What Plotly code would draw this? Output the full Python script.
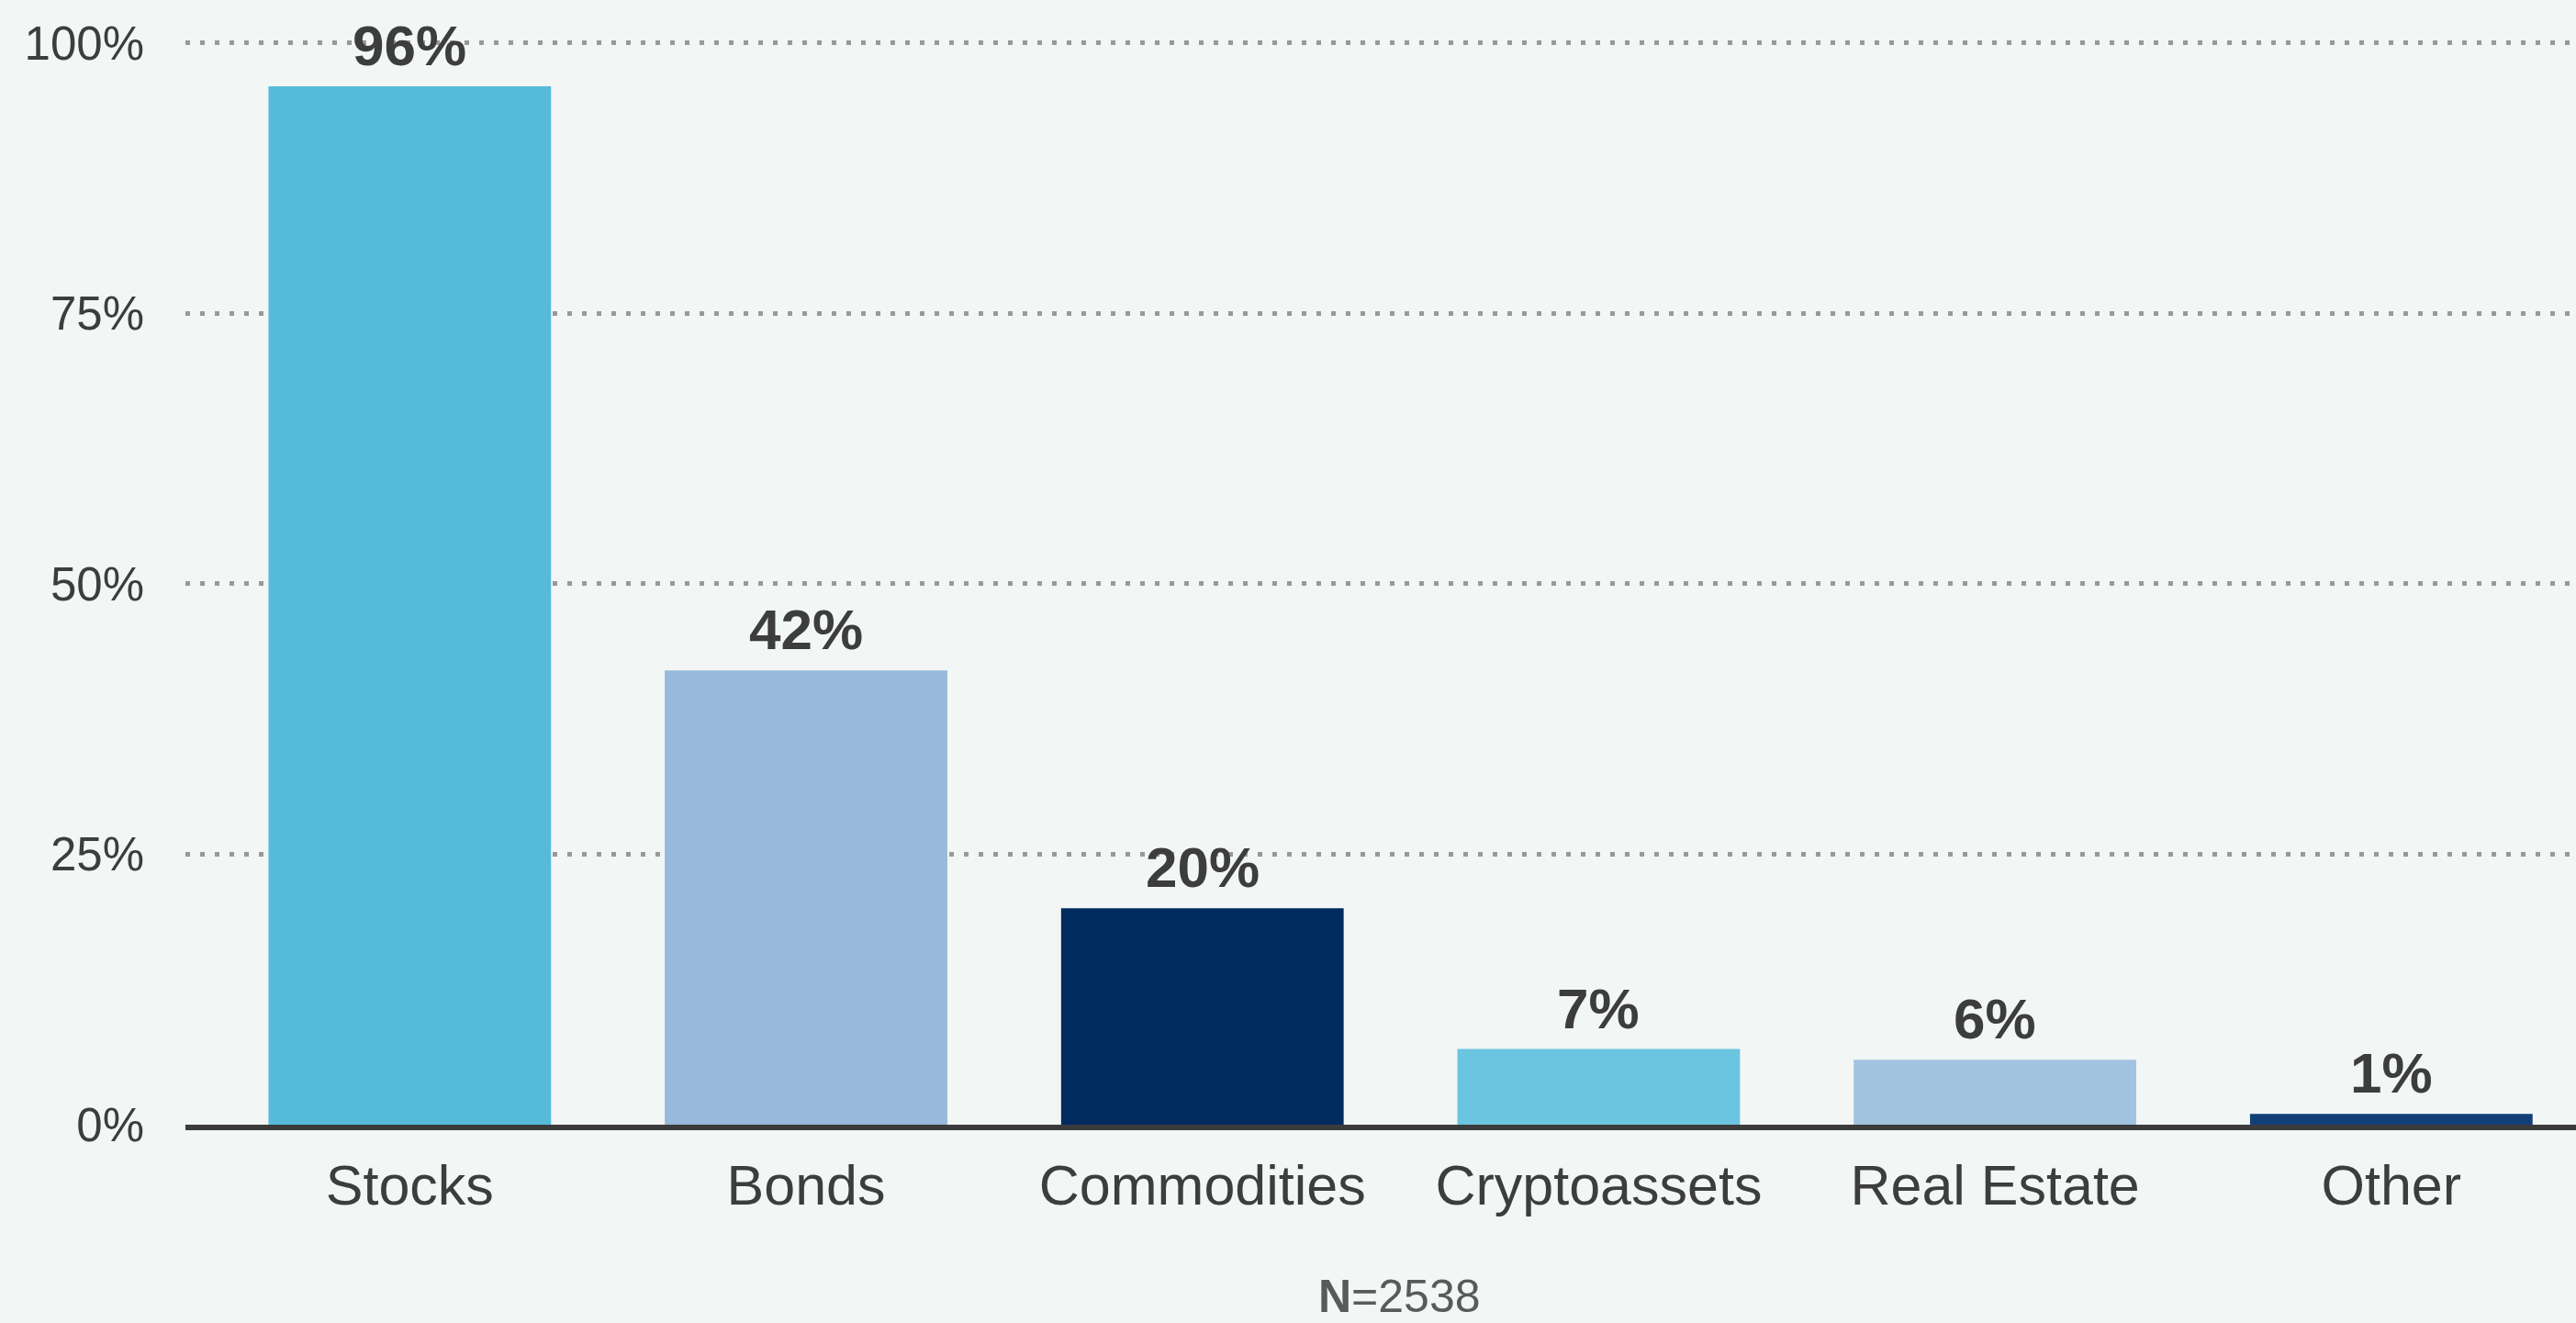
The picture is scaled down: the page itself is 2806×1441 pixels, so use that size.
import plotly.graph_objects as go

categories = ["Stocks", "Bonds", "Commodities", "Cryptoassets", "Real Estate", "Other"]
values = [96, 42, 20, 7, 6, 1]
bar_colors = ["#56BBDB", "#97B9DB", "#002B5F", "#6BC4E0", "#A2C3E0", "#123F78"]
y_ticks = [0, 25, 50, 75, 100]
y_tick_labels = ["0%", "25%", "50%", "75%", "100%"]
note_text = "<b>N</b>=2538"

FONT = "Liberation Sans, Arial, Helvetica, sans-serif"
TEXT = "#3d3d3d"
BG = "#F2F6F5"

fig = go.Figure()
fig.add_trace(go.Bar(
    x=categories,
    y=values,
    marker=dict(color=bar_colors, line=dict(width=0)),
    hoverinfo="skip",
))

for c, v in zip(categories, values):
    fig.add_annotation(
        x=c, y=v, xref="x", yref="y",
        text=f"<b>{v}%</b>",
        showarrow=False, yanchor="bottom", yshift=8,
        font=dict(family=FONT, size=62, color=TEXT),
    )

fig.add_annotation(
    x=0.508, y=-216 / 1190, xref="paper", yref="paper",
    text=note_text, showarrow=False, xanchor="center", yanchor="bottom",
    borderpad=0,
    font=dict(family=FONT, size=50, color="#5a5a5a"),
)

fig.update_layout(
    width=2806, height=1441,
    paper_bgcolor=BG, plot_bgcolor=BG,
    margin=dict(l=202, r=0, t=35, b=216),
    bargap=0.287,
    showlegend=False,
    font=dict(family=FONT, color=TEXT),
)

fig.update_xaxes(
    range=[-0.566, 5.466],
    showgrid=False,
    showline=True, linecolor="#3b3b3b", linewidth=6,
    ticks="", ticklabelstandoff=8,
    tickfont=dict(family=FONT, size=61, color=TEXT),
)

fig.update_yaxes(
    range=[0, 101],
    tickvals=y_ticks, ticktext=y_tick_labels,
    showgrid=True, gridcolor="#999999", gridwidth=5, griddash="5px,11px",
    zeroline=False, showline=False,
    ticks="", ticklabelstandoff=44,
    tickfont=dict(family=FONT, size=51, color=TEXT),
)

fig.write_html(
    "out.html",
    config={"displayModeBar": False},
    post_script="document.body.style.margin='0';document.body.style.background='#F2F6F5';",
)
